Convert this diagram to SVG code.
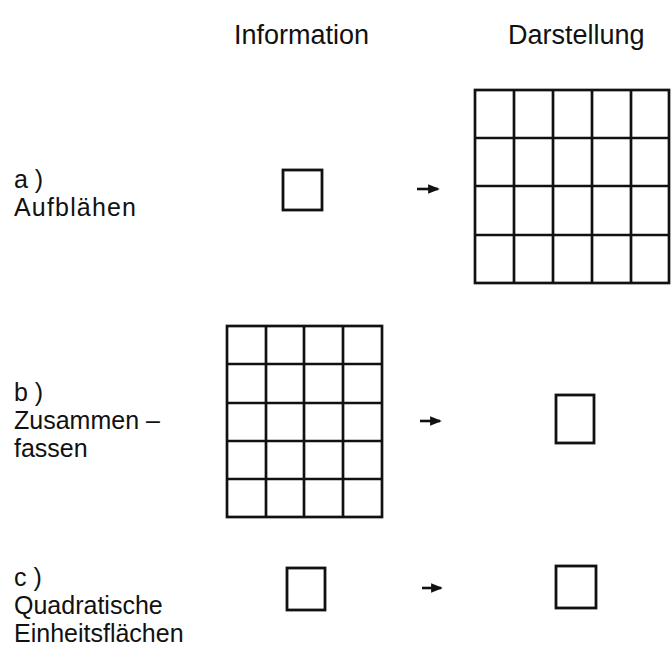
<svg xmlns="http://www.w3.org/2000/svg" width="672" height="652" viewBox="0 0 672 652">
<style>
.t{font-family:"Liberation Sans",Arial,sans-serif;font-size:27px;fill:#111}
.l{font-family:"Liberation Sans",Arial,sans-serif;font-size:25px;fill:#111}
.box{fill:none;stroke:#111;stroke-width:2.8}
.grid{fill:none;stroke:#111;stroke-width:2.7}
.arr{stroke:#111;stroke-width:2.6;fill:none}
</style>
<defs>
<marker id="ah" markerWidth="4.5" markerHeight="3.6" refX="3.8" refY="1.8" orient="auto" markerUnits="strokeWidth">
<path d="M0,0 L4.5,1.8 L0,3.6 Z" fill="#111"/>
</marker>
</defs>
<rect width="672" height="652" fill="#fff"/>
<g id="headers">
<text class="t" x="234" y="44">Information</text>
<text class="t" x="508" y="44">Darstellung</text>
</g>
<g id="label-a">
<text class="l" x="14" y="188">a )</text>
<text class="l" x="14" y="216" textLength="122" lengthAdjust="spacing">Aufblähen</text>
</g>
<g id="label-b">
<text class="l" x="14" y="401">b )</text>
<text class="l" x="14" y="429">Zusammen –</text>
<text class="l" x="14" y="457">fassen</text>
</g>
<g id="label-c">
<text class="l" x="14" y="586">c )</text>
<text class="l" x="14" y="614">Quadratische</text>
<text class="l" x="14" y="642">Einheitsflächen</text>
</g>
<g id="a-info"><rect class="box" x="283" y="170" width="39" height="40"/></g>
<g id="a-display">
<rect class="grid" x="475" y="90" width="194" height="193"/>
<path class="grid" d="M514,90V283M553,90V283M592,90V283M631,90V283M475,138H669M475,186H669M475,235H669"/>
</g>
<g id="b-info">
<rect class="grid" x="227" y="326" width="155" height="191"/>
<path class="grid" d="M266,326V517M304,326V517M343,326V517M227,364H382M227,403H382M227,441H382M227,479H382"/>
</g>
<g id="b-display"><rect class="box" x="556" y="395" width="38" height="48"/></g>
<g id="c-info"><rect class="box" x="287" y="568" width="38" height="42"/></g>
<g id="c-display"><rect class="box" x="556" y="566" width="40" height="42"/></g>
<g id="connectors">
<path class="arr" d="M417,189H438" marker-end="url(#ah)"/>
<path class="arr" d="M420,421H440" marker-end="url(#ah)"/>
<path class="arr" d="M422,588H441" marker-end="url(#ah)"/>
</g>
</svg>
